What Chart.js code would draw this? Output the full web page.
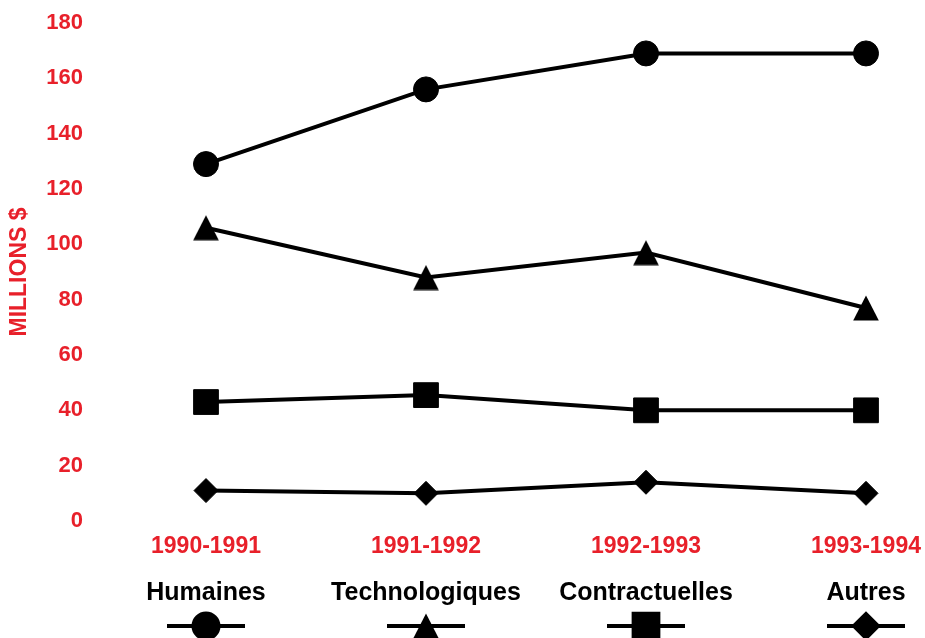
<!DOCTYPE html>
<html>
<head>
<meta charset="utf-8">
<script src="https://cdn.jsdelivr.net/npm/chart.js@4/dist/chart.umd.min.js"></script>
<style>
  html, body { margin: 0; padding: 0; background: #fff; }
  #wrap { width: 925px; height: 638px; }
</style>
</head>
<body>
<div id="wrap"><canvas id="canvas1" width="925" height="638"></canvas></div>
<script>
// donnees
var years = ['1990-1991', '1991-1992', '1992-1993', '1993-1994'];
var humaines = [129, 156, 169, 169];
var technologiques = [106, 88, 97, 77];
var contractuelles = [43, 45.5, 40, 40];
var autres = [11, 10, 14, 10];
var yTicks = [0, 20, 40, 60, 80, 100, 120, 140, 160, 180];

var red = '#e8202a';
var fontName = '"Liberation Sans", Arial, sans-serif';

// triangle centre sur sa boite (comme l'original), pas sur son centre de gravite
var tri = document.createElement('canvas');
tri.width = 26;
tri.height = 26;
var tctx = tri.getContext('2d');
tctx.fillStyle = '#000';
tctx.beginPath();
tctx.moveTo(13, 0.5);
tctx.lineTo(25.8, 25.5);
tctx.lineTo(0.2, 25.5);
tctx.closePath();
tctx.fill();

function serie(label, data, style, radius) {
  return {
    label: label,
    data: data,
    borderColor: '#000',
    borderWidth: 4,
    backgroundColor: '#000',
    pointStyle: style,
    pointRadius: radius,
    pointHoverRadius: radius,
    pointBackgroundColor: '#000',
    pointBorderColor: '#000',
    pointBorderWidth: 1,
    tension: 0,
    clip: false
  };
}

// legende sous les annees : texte au-dessus, symbole en dessous
const legendBas = {
  id: 'legendBas',
  afterDraw(chart) {
    const ctx = chart.ctx;
    const xs = chart.scales.x;
    ctx.save();
    chart.data.datasets.forEach((ds, i) => {
      const x = xs.getPixelForTick(i);
      ctx.fillStyle = '#000';
      ctx.font = 'bold 25px ' + fontName;
      ctx.textAlign = 'center';
      ctx.textBaseline = 'middle';
      ctx.fillText(ds.label, x, 593);
      ctx.strokeStyle = '#000';
      ctx.lineWidth = 4;
      ctx.beginPath();
      ctx.moveTo(x - 39, 626);
      ctx.lineTo(x + 39, 626);
      ctx.stroke();
      Chart.helpers.drawPoint(ctx, {
        pointStyle: ds.pointStyle,
        radius: ds.pointRadius,
        rotation: 0,
        borderWidth: 1
      }, x, 626);
    });
    ctx.restore();
  }
};

const lineChart = new Chart(document.getElementById('canvas1').getContext('2d'), {
  type: 'line',
  data: {
    labels: years,
    datasets: [
      serie('Humaines', humaines, 'circle', 12.5),
      serie('Technologiques', technologiques, tri, 13),
      serie('Contractuelles', contractuelles, 'rect', 17.5),
      serie('Autres', autres, 'rectRot', 12)
    ]
  },
  options: {
    responsive: false,
    animation: false,
    layout: { padding: { top: 23, right: 59, left: 0, bottom: 0 } },
    plugins: {
      legend: { display: false },
      tooltip: { enabled: false }
    },
    scales: {
      x: {
        offset: false,
        grid: { display: false, drawTicks: false },
        border: { display: false },
        ticks: {
          color: red,
          font: { family: fontName, size: 23, weight: 'bold' },
          padding: 12,
          maxRotation: 0,
          autoSkip: false
        },
        afterFit: function (s) {
          s.height = 117;
          s.paddingLeft = 0;
          s.paddingRight = 0;
        }
      },
      y: {
        min: 0,
        max: 180,
        grid: { display: false, drawTicks: false },
        border: { display: false },
        afterBuildTicks: function (s) { s.ticks = yTicks.map(v => ({ value: v })); },
        ticks: {
          color: red,
          font: { family: fontName, size: 22, weight: 'bold' },
          padding: 123
        },
        title: {
          display: true,
          text: 'MILLIONS $',
          color: red,
          font: { family: fontName, size: 23, weight: 'bold' },
          padding: { top: 6, bottom: 0 }
        },
        afterFit: function (s) {
          s.width = 206;
          s.paddingTop = 0;
          s.paddingBottom = 0;
        }
      }
    }
  },
  plugins: [legendBas]
});
</script>
</body>
</html>
